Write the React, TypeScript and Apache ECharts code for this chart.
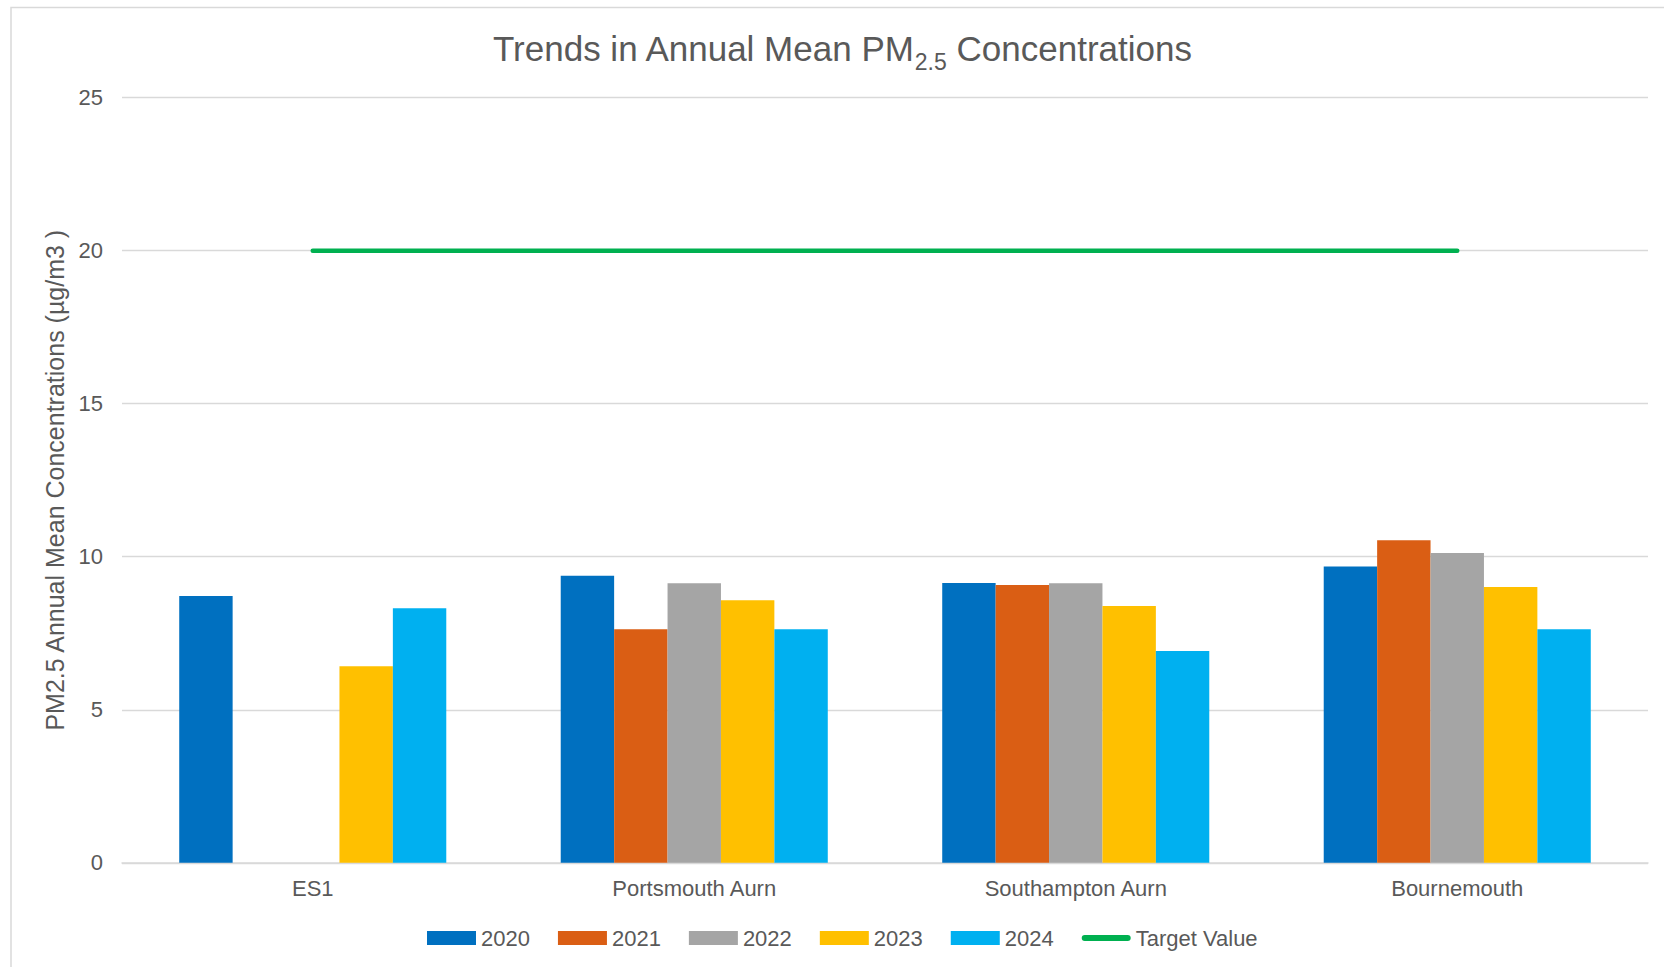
import React, { useEffect, useRef } from "react";
import * as echarts from "echarts";

const categories = ["ES1", "Portsmouth Aurn", "Southampton Aurn", "Bournemouth"];
const years = ["2020", "2021", "2022", "2023", "2024"];
const values2020 = [8.72, 9.38, 9.14, 9.68];
const values2021: (number | null)[] = [null, 7.63, 9.08, 10.54];
const values2022: (number | null)[] = [null, 9.13, 9.13, 10.12];
const values2023 = [6.42, 8.58, 8.39, 9.01];
const values2024 = [8.32, 7.63, 6.92, 7.63];
const targetValue = [20, 20, 20, 20];
const yTicks = { min: 0, max: 25, interval: 5 };
const colors = ["#0070C0", "#DA5E14", "#A5A5A5", "#FFC000", "#00B0F0"];
const targetColor = "#00B050";

const FONT = "Liberation Sans, Arial, sans-serif";
const TEXT = "#595959";

export default function App() {
  const ref = useRef<HTMLDivElement>(null);
  useEffect(() => {
    if (!ref.current) return;
    const chart = echarts.init(ref.current, null, { renderer: "svg" });
    const barData = [values2020, values2021, values2022, values2023, values2024];
    const barSeries = years.map((y, i) => ({
      name: y,
      type: "bar",
      data: barData[i],
      barGap: "0%",
      barCategoryGap: "30%",
      itemStyle: { color: colors[i] },
    }));
    chart.setOption({
      animation: false,
      backgroundColor: "#ffffff",
      textStyle: { fontFamily: FONT },
      title: {
        text: "{a|Trends in Annual Mean PM}{sub|2.5}{a| Concentrations}",
        left: 837,
        textAlign: "center",
        top: 18,
        textStyle: {
          fontWeight: "normal",
          rich: {
            a: { fontSize: 35, color: TEXT, fontFamily: FONT, fontWeight: "normal", lineHeight: 50 },
            sub: {
              fontSize: 23,
              color: TEXT,
              fontFamily: FONT,
              fontWeight: "normal",
              lineHeight: 23,
              padding: [27, 0, 0, 0],
            },
          },
        },
      },
      graphic: [
        {
          type: "rect",
          shape: { x: 11, y: 7.5, width: 1700, height: 1000 },
          style: { fill: "none", stroke: "#d9d9d9", lineWidth: 1.5 },
          silent: true,
        },
      ],
      legend: {
        left: 427,
        top: 927,
        padding: 0,
        itemWidth: 49,
        itemHeight: 14,
        itemGap: 28,
        textStyle: { fontSize: 22, color: TEXT, fontFamily: FONT },
        data: [
          ...years.map((y) => ({ name: y, icon: "rect" })),
          { name: "Target Value", icon: "path://M3,0 L45,0 A3,3 0 0 1 45,6 L3,6 A3,3 0 0 1 3,0 Z" },
        ],
      },
      grid: { left: 122, right: 16, top: 97.6, bottom: 104.2, containLabel: false },
      xAxis: {
        type: "category",
        data: categories,
        axisTick: { show: false },
        axisLine: { lineStyle: { color: "#d9d9d9", width: 1.5 } },
        axisLabel: { fontSize: 22, color: TEXT, margin: 15, fontFamily: FONT },
      },
      yAxis: {
        type: "value",
        min: yTicks.min,
        max: yTicks.max,
        interval: yTicks.interval,
        name: "PM2.5 Annual Mean Concentrations (µg/m3 )",
        nameLocation: "middle",
        nameGap: 52,
        nameTextStyle: { fontSize: 25, color: TEXT, fontFamily: FONT },
        axisLine: { show: false },
        axisTick: { show: false },
        axisLabel: { fontSize: 22, color: TEXT, margin: 19, fontFamily: FONT },
        splitLine: { lineStyle: { color: "#d9d9d9", width: 1.3 } },
      },
      series: [
        ...barSeries,
        {
          name: "Target Value",
          type: "line",
          data: targetValue,
          symbol: "none",
          z: 5,
          itemStyle: { color: targetColor },
          lineStyle: { color: targetColor, width: 4.5, cap: "round" },
        },
      ],
    });
    return () => chart.dispose();
  }, []);
  return (
    <div
      ref={ref}
      style={{ position: "absolute", left: 0, top: 0, width: 1664, height: 967 }}
    />
  );
}
